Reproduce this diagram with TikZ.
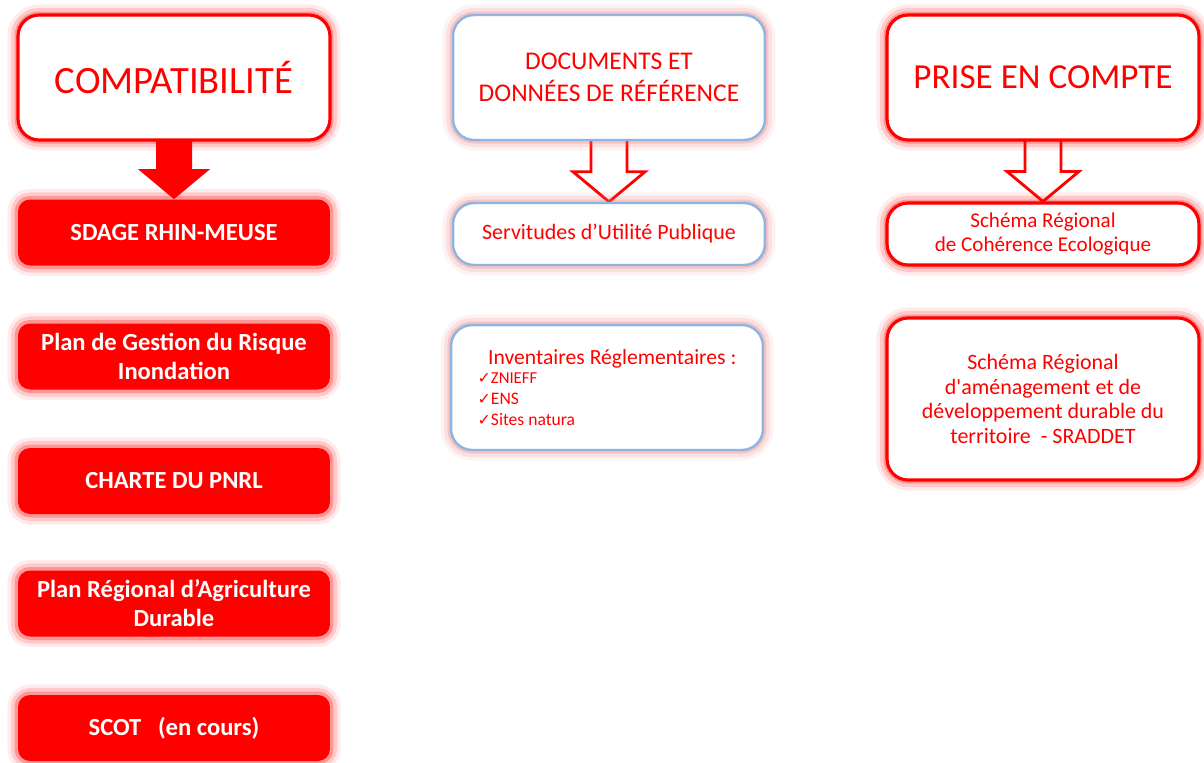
\documentclass[tikz,border=0pt]{standalone}
\usepackage{fontspec}
\setmainfont{Carlito}
\newfontfamily\symbfont{DejaVu Sans}
\usetikzlibrary{calc,backgrounds}

\definecolor{vivred}{HTML}{FF0000}
\definecolor{softblue}{HTML}{8EB4E3}
\definecolor{glowred}{HTML}{EE7070}

\tikzset{
  halo/.style={preaction={draw=#1,fill=none,line width=12pt,opacity=0.08},
               preaction={draw=#1,fill=none,line width=8pt,opacity=0.14},
               preaction={draw=#1,fill=none,line width=4pt,opacity=0.25}},
  boxbase/.style={fill=white, rounded corners=0.42cm, minimum width=6.24cm,
                  text=vivred, align=center, inner sep=0pt},
  titlebox/.style={boxbase, draw=vivred, line width=1.8pt, halo=vivred,
                   minimum height=2.5cm, font=\fontsize{22}{26}\selectfont},
  refbox/.style={boxbase, draw=softblue, line width=1.4pt, halo=glowred},
  takebox/.style={boxbase, draw=vivred, line width=1.8pt, halo=vivred},
  redbox/.style={fill=vivred, rounded corners=0.24cm, minimum width=6.24cm,
                 minimum height=1.32cm, text=white, align=center, halo=vivred,
                 font=\bfseries\fontsize{14}{16.5}\selectfont},
  hollowarrow/.style={draw=vivred, fill=white, line width=1.6pt, line join=miter},
  fullarrow/.style={fill=vivred, draw=none}
}

% block arrow from the bottom of one box to the top of the next
\newcommand{\blockarrow}[3]{%
  \draw[#3] ($(#1.south)+(-18,-8)$) -- ($(#2.north)+(-18,-30)$)
    -- ($(#2.north)+(-36,-30)$) -- (#2.north) -- ($(#2.north)+(36,-30)$)
    -- ($(#2.north)+(18,-30)$) -- ($(#1.south)+(18,-8)$) -- cycle;}
\newcommand{\tick}{{\symbfont\fontsize{9}{11.3}\selectfont ✓}}

\begin{document}
\begin{tikzpicture}[x=0.02cm, y=-0.02cm]
  \useasboundingbox (0,0) rectangle (1204,762);

  % left column
  \node[titlebox] (compat) at (174,77.5) {COMPATIBILITÉ};
  \node[redbox] (sdage) at (174,232.5) {SDAGE RHIN-MEUSE};
  \node[redbox] (pgri) at (174,356.5) {Plan de Gestion du Risque\\Inondation};
  \node[redbox] (charte) at (174,481) {CHARTE DU PNRL};
  \node[redbox] (prad) at (174,603.5) {Plan Régional d’Agriculture\\Durable};
  \node[redbox] (scot) at (174,728) {SCOT \ \ (en cours)};

  % middle column
  \node[refbox, minimum height=2.5cm, font=\fontsize{14.5}{18}\selectfont] (docs) at (609,77.5)
    {DOCUMENTS ET\\DONNÉES DE RÉFÉRENCE};
  \node[refbox, minimum height=1.24cm, font=\fontsize{12.5}{14}\selectfont] (serv) at (609,234)
    {Servitudes d’Utilité Publique};
  \node[refbox, minimum height=2.5cm, align=left] (inv) at (607,387.5)
    {{\fontsize{12.3}{14}\selectfont\hspace{6pt}Inventaires Réglementaires :}\\[-1pt]
     \fontsize{9.5}{11.3}\selectfont\tick ZNIEFF\\
     \tick ENS\\
     \tick Sites natura};

  % right column
  \node[takebox, minimum height=2.5cm, font=\fontsize{20}{24}\selectfont] (prise) at (1043,77.5)
    {PRISE EN COMPTE};
  \node[takebox, minimum height=1.24cm, font=\fontsize{12}{13.6}\selectfont] (srce) at (1043,234)
    {Schéma Régional\\de Cohérence Ecologique};
  \node[takebox, minimum height=3.24cm, font=\fontsize{12.5}{14}\selectfont] (sraddet) at (1043,399)
    {Schéma Régional\\d\textquotesingle aménagement et de\\développement durable du\\territoire \ - SRADDET};

  \begin{scope}[on background layer]
    \fill[white] (0,0) rectangle (1204,762);
    \blockarrow{compat}{sdage}{fullarrow}
    \blockarrow{docs}{serv}{hollowarrow}
    \blockarrow{prise}{srce}{hollowarrow}
  \end{scope}
\end{tikzpicture}
\end{document}
